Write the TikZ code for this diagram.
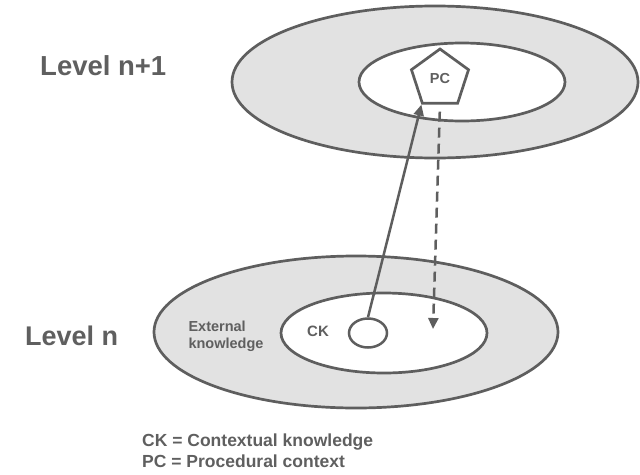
\documentclass[tikz,border=0pt]{standalone}
\usepackage{fontspec}
\setmainfont{Liberation Sans}
\usetikzlibrary{shapes.geometric,arrows.meta}
\definecolor{ln}{HTML}{5E5E5E}
\definecolor{fl}{HTML}{E2E2E2}
\definecolor{tx}{HTML}{5F5F5F}
\tikzset{
  ring/.style={ellipse,draw=ln,line width=2.7pt,inner sep=0pt},
  lbl/.style={text=tx,font=\bfseries,inner sep=0pt},
  arr/.style={draw=ln,line width=2.5pt,-{Triangle[length=11pt,width=10pt]}},
}
\begin{document}
\begin{tikzpicture}[x=1pt,y=-1pt]
\useasboundingbox (0,0) rectangle (640,474);
% level n+1
\node[ring,fill=fl,minimum width=406pt,minimum height=152pt] (outA) at (435,82) {};
\node[ring,fill=white,minimum width=206pt,minimum height=78pt] (inA) at (462,82) {};
\node[regular polygon,regular polygon sides=5,draw=ln,line width=2.7pt,fill=white,minimum size=60pt,inner sep=0pt,
  lbl,font=\bfseries\fontsize{14.5}{16}\selectfont] (pc) at (440,79) {PC};
% level n
\node[ring,fill=fl,minimum width=404pt,minimum height=152pt] (outB) at (356,332) {};
\node[ring,fill=white,minimum width=206pt,minimum height=80pt] (inB) at (384,333) {};
\node[ring,fill=white,minimum width=38pt,minimum height=29pt,line width=2.5pt] (ck) at (368,333) {};
\node[lbl,font=\bfseries\fontsize{15}{17}\selectfont] (cklbl) at (318,331) {CK};
\node[lbl,align=left,font=\bfseries\fontsize{14.5}{17}\selectfont] (ext) at (226,336) {External\\knowledge};
% level labels
\node[lbl,font=\bfseries\fontsize{27.5}{30}\selectfont,anchor=west] (lv1) at (40,66) {Level n+1};
\node[lbl,font=\bfseries\fontsize{27}{30}\selectfont,anchor=west] (lv0) at (25,336) {Level n};
% arrows
\coordinate (dend) at (433,329);
\draw[arr] (ck.north) -- (pc.corner 3);
\draw[arr,dash pattern=on 10pt off 6pt,shorten <=7pt] (pc.south) -- (dend);
% legend
\node[lbl,align=left,anchor=west,font=\bfseries\fontsize{17.5}{19}\selectfont] (leg1) at (142,442)
  {CK = Contextual knowledge};
\node[lbl,align=left,anchor=west,font=\bfseries\fontsize{17.5}{19}\selectfont] (leg2) at (142,461)
  {PC = Procedural context};
\end{tikzpicture}
\end{document}
